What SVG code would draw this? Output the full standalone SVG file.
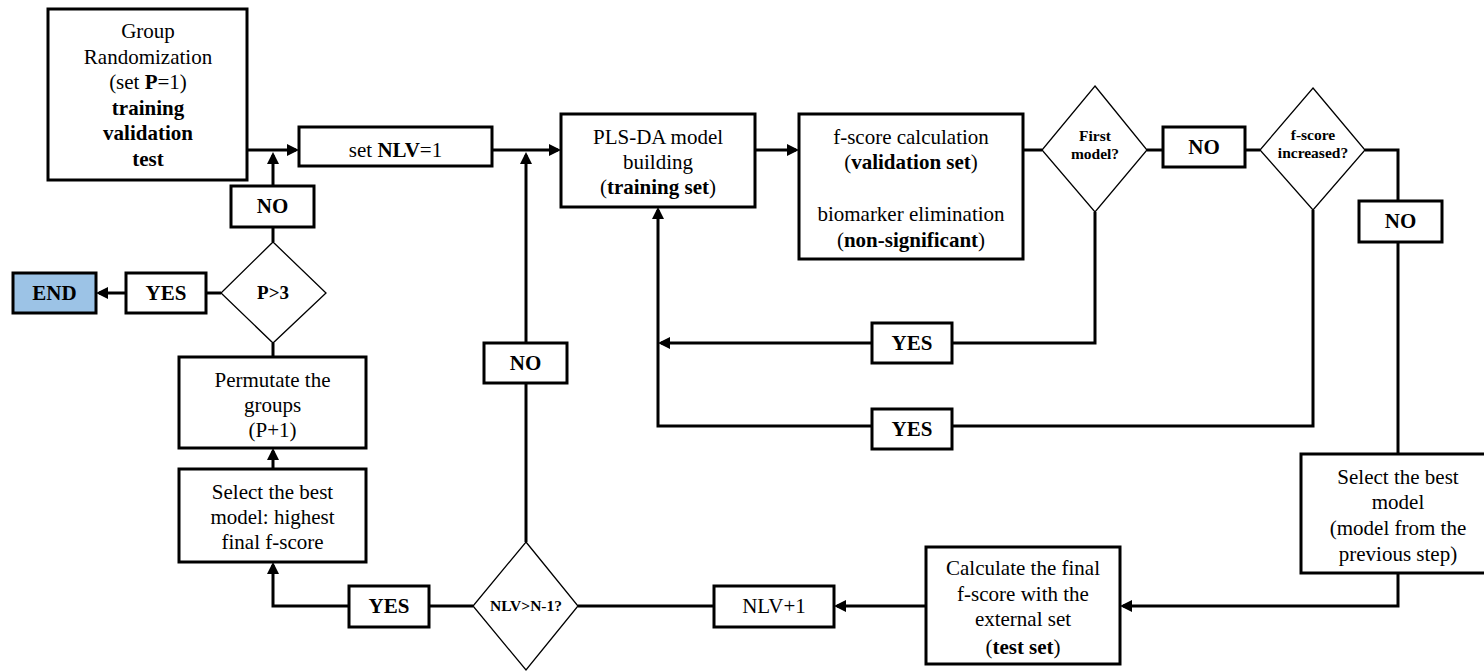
<svg xmlns="http://www.w3.org/2000/svg" width="1484" height="672" viewBox="0 0 1484 672">
  <defs>
    <marker id="arrow" markerUnits="userSpaceOnUse" markerWidth="13" markerHeight="13" refX="9" refY="6" orient="auto">
      <path d="M0,0 L12,6 L0,12 z" fill="#000"/>
    </marker>
    <style>
      .box { fill: #fff; stroke: #000; stroke-width: 3; }
      .end { fill: #9cc3e6; stroke: #000; stroke-width: 3; }
      .dia { fill: #fff; stroke: #000; stroke-width: 1.3; }
      .wire { fill: none; stroke: #000; stroke-width: 3; }
      .arr { marker-end: url(#arrow); }
      text { font-family: "Liberation Serif", "Times New Roman", serif; fill: #000; text-anchor: middle; }
      .t { font-size: 21px; }
      .b { font-size: 21px; font-weight: bold; }
      .d { font-size: 15.5px; font-weight: bold; }
      .bb { font-weight: bold; }
    </style>
  </defs>

  <!-- connectors -->
  <g id="connectors">
    <!-- main row -->
    <line class="wire arr" x1="247" y1="150" x2="296" y2="150"/>
    <line class="wire arr" x1="273" y1="186" x2="273" y2="155"/>
    <line class="wire arr" x1="492" y1="150" x2="558" y2="150"/>
    <line class="wire arr" x1="526" y1="343" x2="526" y2="155"/>
    <line class="wire arr" x1="755" y1="150" x2="796" y2="150"/>
    <line class="wire" x1="1023" y1="150" x2="1042" y2="150"/>
    <line class="wire" x1="1147" y1="150" x2="1163" y2="150"/>
    <line class="wire" x1="1245" y1="150" x2="1260" y2="150"/>
    <!-- f-score increased? NO branch -->
    <polyline class="wire" points="1365,150 1398,150 1398,201"/>
    <line class="wire" x1="1398" y1="242" x2="1398" y2="454"/>
    <!-- YES loops back to model building -->
    <polyline class="wire" points="1095,212 1095,343 952,343"/>
    <line class="wire arr" x1="872" y1="343" x2="661" y2="343"/>
    <polyline class="wire" points="1313,210 1313,426 952,426"/>
    <polyline class="wire arr" points="872,426 658,426 658,210"/>
    <!-- lower row -->
    <polyline class="wire arr" points="1398,573 1398,606 1123,606"/>
    <line class="wire arr" x1="926" y1="606" x2="837" y2="606"/>
    <line class="wire" x1="714" y1="606" x2="578" y2="606"/>
    <line class="wire" x1="473" y1="606" x2="429" y2="606"/>
    <polyline class="wire arr" points="349,606 273,606 273,565"/>
    <line class="wire" x1="526" y1="542" x2="526" y2="383"/>
    <!-- left column -->
    <line class="wire arr" x1="273" y1="469" x2="273" y2="451"/>
    <line class="wire" x1="273" y1="357" x2="273" y2="343"/>
    <line class="wire" x1="273" y1="242" x2="273" y2="227"/>
    <line class="wire" x1="221" y1="293" x2="206" y2="293"/>
    <line class="wire arr" x1="126" y1="293" x2="99" y2="293"/>
  </g>

  <g id="group-randomization">
    <rect class="box" x="48" y="9" width="199" height="171"/>
    <text class="t" x="148" y="38">Group</text>
    <text class="t" x="148" y="63.5">Randomization</text>
    <text class="t" x="148" y="89">(set <tspan class="bb">P</tspan>=1)</text>
    <text class="b" x="148" y="114.5">training</text>
    <text class="b" x="148" y="140">validation</text>
    <text class="b" x="148" y="165.5">test</text>
  </g>

  <g id="set-nlv">
    <rect class="box" x="299" y="127" width="193" height="39"/>
    <text class="t" x="395.5" y="157">set <tspan class="bb">NLV</tspan>=1</text>
  </g>

  <g id="pls-da">
    <rect class="box" x="561" y="114" width="194" height="93"/>
    <text class="t" x="658" y="144">PLS-DA model</text>
    <text class="t" x="658" y="169">building</text>
    <text class="t" x="658" y="194">(<tspan class="bb">training set</tspan>)</text>
  </g>

  <g id="f-score-calc">
    <rect class="box" x="799" y="114" width="224" height="145"/>
    <text class="t" x="911" y="144">f-score calculation</text>
    <text class="t" x="911" y="169">(<tspan class="bb">validation set</tspan>)</text>
    <text class="t" x="911" y="221">biomarker elimination</text>
    <text class="t" x="911" y="247">(<tspan class="bb">non-significant</tspan>)</text>
  </g>

  <g id="first-model">
    <polygon class="dia" points="1095,86 1147,150 1095,212 1042,150"/>
    <text class="d" x="1095" y="141">First</text>
    <text class="d" x="1095" y="159">model?</text>
  </g>

  <g id="no-first">
    <rect class="box" x="1163" y="127" width="82" height="40"/>
    <text class="b" x="1204" y="154">NO</text>
  </g>

  <g id="f-score-increased">
    <polygon class="dia" points="1313,88 1365,150 1313,210 1260,150"/>
    <text class="d" x="1313" y="140">f-score</text>
    <text class="d" x="1313" y="158">increased?</text>
  </g>

  <g id="no-increased">
    <rect class="box" x="1359" y="201" width="83" height="41"/>
    <text class="b" x="1400.5" y="228">NO</text>
  </g>

  <g id="yes-first">
    <rect class="box" x="872" y="323" width="80" height="40"/>
    <text class="b" x="912" y="350">YES</text>
  </g>

  <g id="yes-increased">
    <rect class="box" x="872" y="409" width="80" height="40"/>
    <text class="b" x="912" y="436">YES</text>
  </g>

  <g id="select-best-step">
    <rect class="box" x="1301" y="454" width="194" height="119"/>
    <text class="t" x="1398" y="484">Select the best</text>
    <text class="t" x="1398" y="509">model</text>
    <text class="t" x="1398" y="535">(model from the</text>
    <text class="t" x="1398" y="561">previous step)</text>
  </g>

  <g id="final-f-score">
    <rect class="box" x="926" y="547" width="194" height="117"/>
    <text class="t" x="1023" y="575">Calculate the final</text>
    <text class="t" x="1023" y="601">f-score with the</text>
    <text class="t" x="1023" y="626">external set</text>
    <text class="t" x="1023" y="654">(<tspan class="bb">test set</tspan>)</text>
  </g>

  <g id="nlv-plus-one">
    <rect class="box" x="714" y="586" width="120" height="41"/>
    <text class="t" x="774" y="613">NLV+1</text>
  </g>

  <g id="nlv-check">
    <polygon class="dia" points="526,542 578,606 526,670 473,606"/>
    <text class="d" x="526" y="611">NLV&gt;N-1?</text>
  </g>

  <g id="no-nlv">
    <rect class="box" x="484" y="343" width="83" height="40"/>
    <text class="b" x="525.5" y="370">NO</text>
  </g>

  <g id="yes-nlv">
    <rect class="box" x="349" y="586" width="80" height="41"/>
    <text class="b" x="389" y="613">YES</text>
  </g>

  <g id="select-best-final">
    <rect class="box" x="179" y="469" width="187" height="93"/>
    <text class="t" x="272.5" y="499">Select the best</text>
    <text class="t" x="272.5" y="524">model: highest</text>
    <text class="t" x="272.5" y="549">final f-score</text>
  </g>

  <g id="permutate">
    <rect class="box" x="179" y="357" width="187" height="91"/>
    <text class="t" x="272.5" y="387">Permutate the</text>
    <text class="t" x="272.5" y="412">groups</text>
    <text class="t" x="272.5" y="437">(P+1)</text>
  </g>

  <g id="p-check">
    <polygon class="dia" points="273,242 326,293 273,343 221,293"/>
    <text x="273" y="299" style="font-size:19px;font-weight:bold">P&gt;3</text>
  </g>

  <g id="no-p">
    <rect class="box" x="231" y="186" width="83" height="41"/>
    <text class="b" x="272.5" y="213">NO</text>
  </g>

  <g id="yes-p">
    <rect class="box" x="126" y="273" width="80" height="40"/>
    <text class="b" x="166" y="300">YES</text>
  </g>

  <g id="end">
    <rect class="end" x="13" y="273" width="83" height="40"/>
    <text class="b" x="54.5" y="300">END</text>
  </g>
</svg>
